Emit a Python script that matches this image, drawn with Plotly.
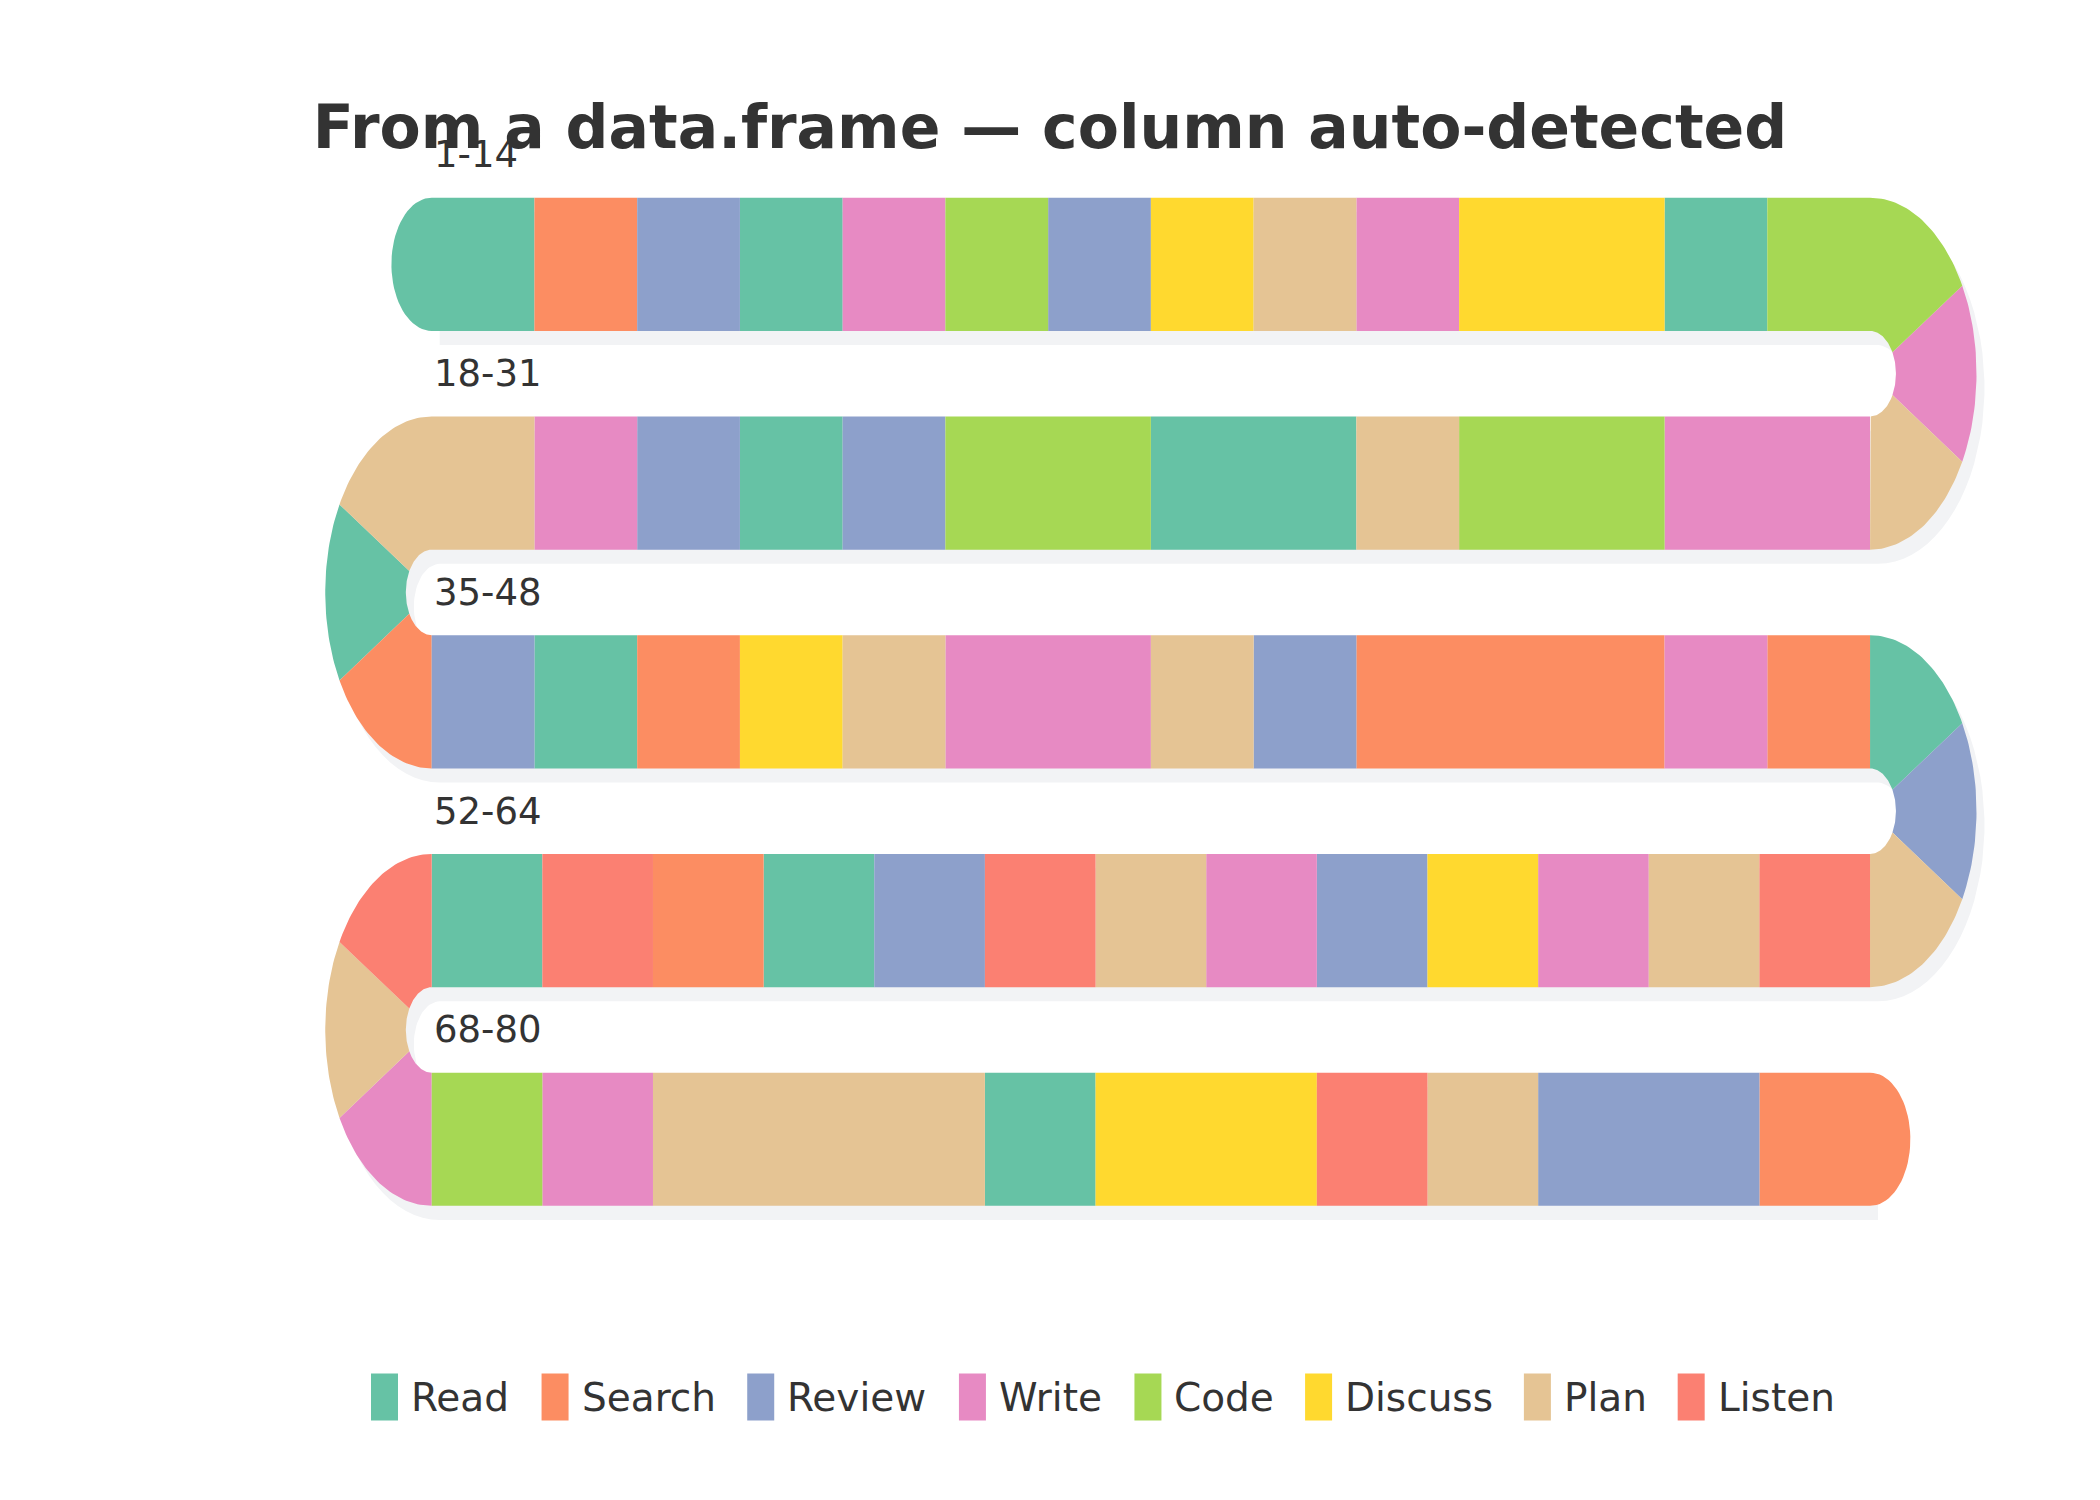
"""Snake chart of an activity sequence, drawn with Plotly."""

import numpy as np
import plotly.graph_objects as go

ACTIVITIES = ["Read", "Search", "Review", "Write", "Code", "Discuss", "Plan", "Listen"]
COLORS = ["#66c2a5", "#fc8d62", "#8da0cb", "#e78ac3", "#a6d854", "#ffd92f", "#e5c494", "#fb8072"]

# activity at each step, in order along the snake (steps 1..80)
SEQUENCE = [
    "Read", "Search", "Review", "Read", "Write", "Code", "Review", "Discuss", "Plan", "Write",
    "Discuss", "Discuss", "Read", "Code",
    "Code", "Write", "Plan",
    "Write", "Write", "Code", "Code", "Plan", "Read", "Read", "Code", "Code", "Review",
    "Read", "Review", "Write", "Plan",
    "Plan", "Read", "Search",
    "Review", "Read", "Search", "Discuss", "Plan", "Write", "Write", "Plan", "Review", "Search",
    "Search", "Search", "Write", "Search",
    "Read", "Review", "Plan",
    "Listen", "Plan", "Write", "Discuss", "Review", "Write", "Plan", "Listen", "Review", "Read",
    "Search", "Listen", "Read",
    "Listen", "Plan", "Write",
    "Code", "Write", "Plan", "Plan", "Plan", "Read", "Discuss", "Discuss", "Listen", "Plan",
    "Review", "Review", "Search",
]
ROW_SIZES = [14, 14, 14, 13, 13]
TURN_SIZE = 3

TITLE = "From a data.frame \u2014 column auto-detected"

# geometry (data units: row length 14, row spacing 1)
ROW_LEN = 14.0
HALF_H = 0.3045
ROUND_K = 1.288          # x stretch of the round parts
SHADOW_DX, SHADOW_DY = 0.078, -0.065
SHADOW_COLOR = "#f2f3f5"
TEXT_COLOR = "#333333"
FONT = "DejaVu Sans"

color_of = dict(zip(ACTIVITIES, COLORS))


def _arc(cx, cy, rx, ry, a0, a1, n=40):
    t = np.radians(np.linspace(a0, a1, n))
    return list(cx + rx * np.cos(t)), list(cy + ry * np.sin(t))


def _wedge(cx, cy, r_in, r_out, a0, a1, side):
    xo, yo = _arc(cx, cy, r_out * ROUND_K, r_out, a0, a1)
    xi, yi = _arc(cx, cy, r_in * ROUND_K, r_in, a1, a0)
    xs = xo + xi
    ys = yo + yi
    if side < 0:
        xs = [2 * cx - x for x in xs]
    return xs + [xs[0]], ys + [ys[0]]


def _rect(x0, x1, y0, y1):
    return [x0, x1, x1, x0, x0], [y0, y0, y1, y1, y0]


polys = {c: ([], []) for c in COLORS}
shadow = ([], [])


def _add(target, xs, ys):
    target[0].extend(xs + [None])
    target[1].extend(ys + [None])


step = 0
for row, size in enumerate(ROW_SIZES):
    yc = -row
    w = ROW_LEN / size
    steps = SEQUENCE[step:step + size]
    # merge runs of equal activities into one block
    k = 0
    while k < size:
        j = k
        while j + 1 < size and steps[j + 1] == steps[k]:
            j += 1
        if row % 2 == 0:
            x0, x1 = k * w, (j + 1) * w
        else:
            x0, x1 = ROW_LEN - (j + 1) * w, ROW_LEN - k * w
        _add(polys[color_of[steps[k]]], *_rect(x0, x1, yc - HALF_H, yc + HALF_H))
        k = j + 1
    xs, ys = _rect(0, ROW_LEN, yc - HALF_H, yc + HALF_H)
    _add(shadow, [x + SHADOW_DX for x in xs], [y + SHADOW_DY for y in ys])
    step += size

    if row == len(ROW_SIZES) - 1:
        break
    side = 1 if row % 2 == 0 else -1
    cx = ROW_LEN if side > 0 else 0.0
    cy = -row - 0.5
    r_out, r_in = 0.5 + HALF_H, 0.5 - HALF_H
    span = 180.0 / TURN_SIZE
    for t in range(TURN_SIZE):
        a0, a1 = 90 - t * span, 90 - (t + 1) * span
        _add(polys[color_of[SEQUENCE[step + t]]], *_wedge(cx, cy, r_in, r_out, a0, a1, side))
    xs, ys = _wedge(cx, cy, r_in, r_out, 90, -90, side)
    _add(shadow, [x + SHADOW_DX for x in xs], [y + SHADOW_DY for y in ys])
    step += TURN_SIZE

# start and end caps
xs, ys = _arc(0.0, 0.0, HALF_H * ROUND_K, HALF_H, 90, 270)
_add(polys[color_of[SEQUENCE[0]]], xs + [xs[0]], ys + [ys[0]])
last = len(ROW_SIZES) - 1
end_x = ROW_LEN if last % 2 == 0 else 0.0
a0, a1 = (-90, 90) if last % 2 == 0 else (90, 270)
xs, ys = _arc(end_x, -last, HALF_H * ROUND_K, HALF_H, a0, a1)
_add(polys[color_of[SEQUENCE[-1]]], xs + [xs[0]], ys + [ys[0]])

fig = go.Figure()
fig.add_trace(go.Scatter(
    x=shadow[0], y=shadow[1], mode="lines", fill="toself",
    fillcolor=SHADOW_COLOR, line={"width": 0}, hoverinfo="skip",
))
for act, col in zip(ACTIVITIES, COLORS):
    px, py = polys[col]
    if not px:
        continue
    fig.add_trace(go.Scatter(
        x=px, y=py, mode="lines", fill="toself", fillcolor=col,
        line={"width": 0}, name=act, hoverinfo="name",
    ))

# row labels
annotations = []
step = 0
for row, size in enumerate(ROW_SIZES):
    annotations.append({
        "x": 0, "y": -row + 0.5, "xref": "x", "yref": "y",
        "text": f"{step + 1}-{step + size}", "showarrow": False,
        "xanchor": "left", "yanchor": "middle",
        "font": {"family": FONT, "size": 37, "color": TEXT_COLOR},
    })
    step += size + TURN_SIZE

# legend drawn by hand (tall swatches)
CHAR_W = {"R": .695, "e": .615, "a": .613, "d": .635, "S": .635, "r": .411, "c": .550,
          "h": .634, "v": .592, "i": .278, "w": .818, "W": .989, "t": .392, "C": .698,
          "o": .612, "D": .770, "s": .521, "u": .634, "P": .603, "l": .278, "n": .634,
          "L": .557}
W, H = 2100, 1500
leg_font = 39
sw_w, sw_h = 27, 47
leg_x, leg_y = 363, 1389
shapes = []
for act, col in zip(ACTIVITIES, COLORS):
    shapes.append({
        "type": "rect", "xref": "paper", "yref": "paper",
        "x0": leg_x / W, "x1": (leg_x + sw_w) / W,
        "y0": 1 - (leg_y + sw_h / 2) / H, "y1": 1 - (leg_y - sw_h / 2) / H,
        "fillcolor": col, "line": {"width": 0},
    })
    annotations.append({
        "x": (leg_x + sw_w + 11) / W, "y": 1 - leg_y / H, "xref": "paper", "yref": "paper",
        "text": act, "showarrow": False, "xanchor": "left", "yanchor": "middle",
        "font": {"family": FONT, "size": leg_font, "color": TEXT_COLOR},
    })
    text_w = sum(CHAR_W.get(ch, 0.6) for ch in act) * leg_font
    leg_x += sw_w + 13.5 + text_w + 30.3

fig.update_layout(
    width=W, height=H,
    margin={"l": 0, "r": 0, "t": 0, "b": 0},
    paper_bgcolor="white", plot_bgcolor="white",
    showlegend=False,
    title={
        "text": f"<b>{TITLE}</b>", "x": 1042 / W, "xanchor": "center",
        "y": 1 - 119 / H, "yanchor": "middle",
        "font": {"family": FONT, "size": 60, "color": TEXT_COLOR},
    },
    annotations=annotations,
    shapes=shapes,
)
fig.update_xaxes(visible=False, range=[-4.124, 16.316], fixedrange=True)
fig.update_yaxes(visible=False, range=[-5.6857, 1.1717], fixedrange=True)

fig.write_html("out.html")
